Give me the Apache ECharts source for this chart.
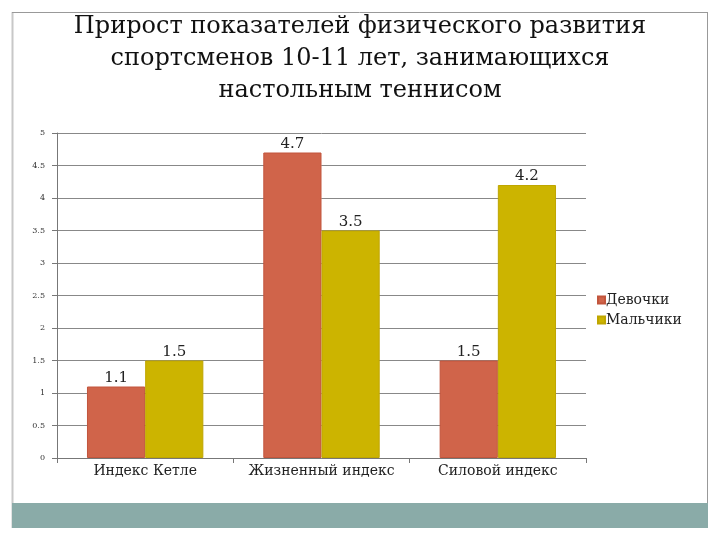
<!DOCTYPE html>
<html><head><meta charset="utf-8">
<script src="https://cdn.jsdelivr.net/npm/echarts@6/dist/echarts.min.js"></script>
<style>html,body{margin:0;padding:0;background:#fff}#c{width:720px;height:540px}</style>
</head><body><div id="c"></div>
<script>
const categories = ['Индекс Кетле', 'Жизненный индекс', 'Силовой индекс'];
const girls = [1.1, 4.7, 1.5];
const boys = [1.5, 3.5, 4.2];
const seriesNames = ['Девочки', 'Мальчики'];
const titleText = 'Прирост показателей физического развития\nспортсменов 10-11 лет, занимающихся\nнастольным теннисом';

const serif = '"DejaVu Serif", "Liberation Serif", serif';
const chart = echarts.init(document.getElementById('c'));
const labelStyle = {show: true, position: 'top', distance: 1, fontFamily: serif, fontSize: 15, color: '#222'};
chart.setOption({
  animation: false,
  title: {
    text: titleText, left: 'center', top: 6,
    textStyle: {fontFamily: serif, fontSize: 24, fontWeight: 'normal', color: '#111', lineHeight: 32}
  },
  graphic: [
    {type: 'line', shape: {x1: 12.5, y1: 12, x2: 12.5, y2: 528}, style: {stroke: '#c8c8c8', lineWidth: 2}},
    {type: 'line', shape: {x1: 12, y1: 12.5, x2: 707, y2: 12.5}, style: {stroke: '#999', lineWidth: 1}},
    {type: 'line', shape: {x1: 707.5, y1: 12, x2: 707.5, y2: 528}, style: {stroke: '#999', lineWidth: 1}},
    {type: 'rect', shape: {x: 12, y: 503, width: 696, height: 25}, style: {fill: '#8AABA8'}}
  ],
  legend: {
    orient: 'vertical', left: 592, top: 288, itemWidth: 7, itemHeight: 7, itemGap: 6,
    icon: 'rect', textStyle: {fontFamily: serif, fontSize: 14, color: '#222', padding: [0,0,0,-4]}
  },
  grid: {left: 57, right: 134, top: 133, bottom: 82},
  xAxis: {
    type: 'category', data: categories,
    axisLine: {lineStyle: {color: '#777'}},
    axisTick: {show: true, length: 5, interval: 0, lineStyle: {color: '#777'}},
    axisLabel: {fontFamily: serif, fontSize: 14, color: '#222', margin: 6, interval: 0, hideOverlap: false}
  },
  yAxis: {
    type: 'value', min: 0, max: 5, interval: 0.5,
    axisLine: {show: true, lineStyle: {color: '#777'}},
    axisTick: {show: true, length: 5, lineStyle: {color: '#777'}},
    splitLine: {lineStyle: {color: '#888'}},
    axisLabel: {fontFamily: serif, fontSize: 8, color: '#333', margin: 12}
  },
  series: [
    {name: seriesNames[0], type: 'bar', data: girls, barGap: '0%', barCategoryGap: '34%',
     itemStyle: {color: '#D0644A', borderColor: '#c2553c', borderWidth: 1}, label: labelStyle},
    {name: seriesNames[1], type: 'bar', data: boys,
     itemStyle: {color: '#CCB400', borderColor: '#bfa600', borderWidth: 1}, label: labelStyle}
  ]
});
</script></body></html>
